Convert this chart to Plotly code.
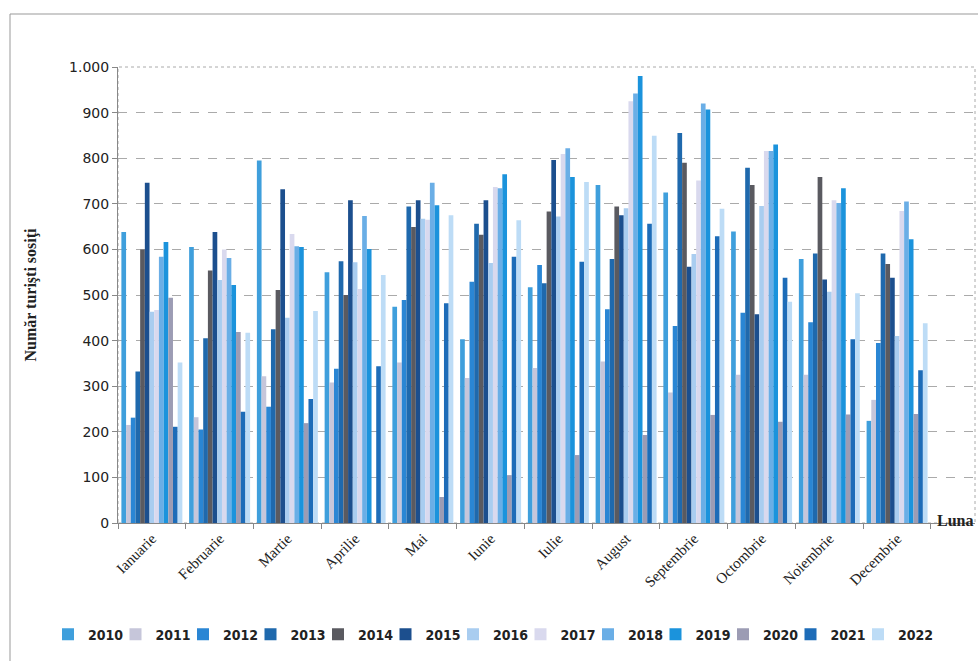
import plotly.graph_objects as go

months = ["Ianuarie", "Februarie", "Martie", "Aprilie", "Mai", "Iunie", "Iulie",
          "August", "Septembrie", "Octombrie", "Noiembrie", "Decembrie"]
years = ["2010", "2011", "2012", "2013", "2014", "2015", "2016",
         "2017", "2018", "2019", "2020", "2021", "2022"]

v2010 = [638, 605, 795, 550, 474, 403, 517, 741, 725, 639, 579, 224]
v2011 = [215, 232, 322, 308, 352, 318, 340, 354, 286, 325, 325, 270]
v2012 = [231, 205, 255, 338, 489, 529, 566, 469, 432, 461, 440, 395]
v2013 = [332, 405, 425, 574, 694, 656, 526, 579, 855, 779, 591, 591]
v2014 = [600, 554, 511, 500, 649, 632, 683, 694, 790, 741, 759, 568]
v2015 = [746, 638, 732, 708, 708, 708, 796, 675, 562, 458, 534, 538]
v2016 = [463, 533, 450, 572, 667, 570, 672, 690, 590, 695, 507, 410]
v2017 = [467, 600, 634, 513, 665, 737, 809, 925, 751, 816, 708, 684]
v2018 = [584, 581, 607, 673, 746, 734, 822, 942, 920, 816, 702, 705]
v2019 = [616, 522, 605, 601, 697, 765, 759, 980, 907, 830, 734, 622]
v2020 = [494, 419, 219, 0, 57, 105, 149, 193, 237, 222, 238, 239]
v2021 = [211, 244, 272, 344, 482, 584, 573, 656, 629, 538, 403, 335]
v2022 = [352, 417, 465, 544, 675, 664, 748, 849, 689, 485, 504, 438]

series = [v2010, v2011, v2012, v2013, v2014, v2015, v2016,
          v2017, v2018, v2019, v2020, v2021, v2022]
colors = ["#3f9fdc", "#c6c6da", "#2a86d4", "#1f69ad", "#5a5a60", "#1c4f8e",
          "#a9cdf0", "#d9d9ee", "#6aaee6", "#1b93dc", "#9c9cb4", "#1d6cb8", "#bddcf6"]

ytick_vals = [0, 100, 200, 300, 400, 500, 600, 700, 800, 900, 1000]
ytick_text = ["0", "100", "200", "300", "400", "500", "600", "700", "800", "900", "1.000"]

W, H = 978, 661
L, R, T, B = 118, 3, 67, 138
PW = W - L - R
PH = H - T - B

LEG_X0 = 48
ENTRY = 67.5

leg_font = dict(family="DejaVu Sans Condensed, DejaVu Sans", size=14, color="#222", weight="bold")

fig = go.Figure()
legend_layout = {}
for i, (y, vals, c) in enumerate(zip(years, series, colors)):
    key = "legend" if i == 0 else f"legend{i + 1}"
    fig.add_trace(go.Bar(name=y, x=months, y=vals,
                         marker=dict(color=c, line=dict(width=0)),
                         legend=key))
    legend_layout[key] = dict(orientation="h", x=(LEG_X0 + ENTRY * i) / W, xanchor="left",
                              xref="container", y=0.04, yanchor="middle", yref="container",
                              font=leg_font, itemwidth=30, itemclick=False,
                              bgcolor="rgba(0,0,0,0)")

fig.update_layout(
    width=W, height=H,
    barmode="group", bargap=0.1, bargroupgap=0.0,
    paper_bgcolor="white", plot_bgcolor="white",
    margin=dict(l=L, r=R, t=T, b=B),
    font=dict(family="DejaVu Sans", color="#222"),
    showlegend=True,
    xaxis=dict(tickangle=-45, tickfont=dict(family="Liberation Serif", size=15, color="#222"),
               range=[-0.5, 12.15],
               showline=True, linecolor="#888", linewidth=1,
               ticks="outside", tickson="boundaries", ticklen=5, tickcolor="#888",
               showgrid=False),
    yaxis=dict(range=[0, 1000], tickvals=ytick_vals, ticktext=ytick_text,
               tickfont=dict(family="DejaVu Sans", size=14, color="#222"),
               showline=True, linecolor="#888", linewidth=1,
               ticks="outside", ticklen=5, tickcolor="#888",
               showgrid=True, gridcolor="#aaa", griddash="dash", gridwidth=1,
               zeroline=False,
               title=dict(text="<b>Număr turişti sosiţi</b>",
                          font=dict(family="Liberation Serif", size=16, color="#222"),
                          standoff=28)),
    **legend_layout,
)

fig.add_annotation(text="<b>Luna</b>", xref="paper", yref="paper", x=1.0, y=3 / PH,
                   xanchor="right", yanchor="middle", showarrow=False,
                   font=dict(family="Liberation Serif", size=16, color="#222"))
fig.add_shape(type="rect", xref="paper", yref="paper", x0=0, x1=1, y0=0, y1=1,
              line=dict(color="#aaa", width=1, dash="dot"), layer="below")
fig.add_shape(type="rect", xref="paper", yref="paper",
              x0=(10 - L) / PW, x1=(990 - L) / PW, y0=-(B + 20) / PH, y1=1 + (T - 14) / PH,
              line=dict(color="#999", width=1))

fig.write_html("out.html", config={"displayModeBar": False},
               post_script="document.body.style.margin='0';document.body.style.overflow='hidden';")
